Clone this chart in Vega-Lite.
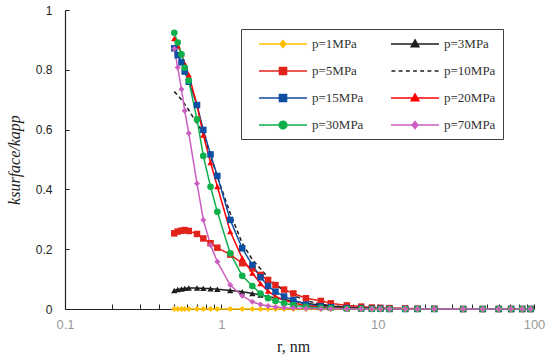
{
"$schema": "https://vega.github.io/schema/vega-lite/v6.json",
"width": 469, "height": 299,
"autosize": {"type": "none"},
"padding": {"left": 65, "top": 10, "right": 16, "bottom": 49},
"config": {"view": {"stroke": null}, "font": "Liberation Sans"},
"datasets": {"d": [
{"p":"p=1MPa","r":0.5,"v":0},{"p":"p=1MPa","r":0.526,"v":0},{"p":"p=1MPa","r":0.556,"v":0},{"p":"p=1MPa","r":0.583,"v":0},{"p":"p=1MPa","r":0.619,"v":0},{"p":"p=1MPa","r":0.699,"v":0},{"p":"p=1MPa","r":0.767,"v":0},{"p":"p=1MPa","r":0.853,"v":0},{"p":"p=1MPa","r":0.943,"v":0},{"p":"p=1MPa","r":1.14,"v":0},{"p":"p=1MPa","r":1.36,"v":0},{"p":"p=1MPa","r":1.58,"v":0},{"p":"p=1MPa","r":1.78,"v":0},{"p":"p=1MPa","r":1.99,"v":0},{"p":"p=1MPa","r":2.22,"v":0},{"p":"p=1MPa","r":2.52,"v":0},{"p":"p=1MPa","r":2.89,"v":0},{"p":"p=1MPa","r":3.48,"v":0},{"p":"p=1MPa","r":4.33,"v":0},{"p":"p=1MPa","r":5.01,"v":0},{"p":"p=1MPa","r":6.35,"v":0},{"p":"p=1MPa","r":7.84,"v":0},{"p":"p=1MPa","r":9.18,"v":0},{"p":"p=1MPa","r":10.4,"v":0},{"p":"p=1MPa","r":11.9,"v":0},{"p":"p=1MPa","r":15,"v":0},{"p":"p=1MPa","r":18,"v":0},{"p":"p=1MPa","r":23,"v":0},{"p":"p=1MPa","r":35.2,"v":0},{"p":"p=1MPa","r":47,"v":0},{"p":"p=1MPa","r":59.5,"v":0},{"p":"p=1MPa","r":71.4,"v":0},{"p":"p=1MPa","r":84,"v":0},{"p":"p=1MPa","r":95,"v":0},
{"p":"p=3MPa","r":0.5,"v":0.062},{"p":"p=3MPa","r":0.526,"v":0.065},{"p":"p=3MPa","r":0.556,"v":0.067},{"p":"p=3MPa","r":0.583,"v":0.069},{"p":"p=3MPa","r":0.619,"v":0.07},{"p":"p=3MPa","r":0.699,"v":0.07},{"p":"p=3MPa","r":0.767,"v":0.069},{"p":"p=3MPa","r":0.853,"v":0.068},{"p":"p=3MPa","r":0.943,"v":0.066},{"p":"p=3MPa","r":1.14,"v":0.062},{"p":"p=3MPa","r":1.36,"v":0.058},{"p":"p=3MPa","r":1.58,"v":0.052},{"p":"p=3MPa","r":1.78,"v":0.047},{"p":"p=3MPa","r":1.99,"v":0.042},{"p":"p=3MPa","r":2.22,"v":0.037},{"p":"p=3MPa","r":2.52,"v":0.032},{"p":"p=3MPa","r":2.89,"v":0.026},{"p":"p=3MPa","r":3.48,"v":0.019},{"p":"p=3MPa","r":4.33,"v":0.013},{"p":"p=3MPa","r":5.01,"v":0.01},{"p":"p=3MPa","r":6.35,"v":0.006},{"p":"p=3MPa","r":7.84,"v":0.004},{"p":"p=3MPa","r":9.18,"v":0.003},{"p":"p=3MPa","r":10.4,"v":0.002},{"p":"p=3MPa","r":11.9,"v":0.002},{"p":"p=3MPa","r":15,"v":0.001},{"p":"p=3MPa","r":18,"v":0.001},{"p":"p=3MPa","r":23,"v":0.001},{"p":"p=3MPa","r":35.2,"v":0},{"p":"p=3MPa","r":47,"v":0},{"p":"p=3MPa","r":59.5,"v":0},{"p":"p=3MPa","r":71.4,"v":0},{"p":"p=3MPa","r":84,"v":0},{"p":"p=3MPa","r":95,"v":0},
{"p":"p=5MPa","r":0.5,"v":0.253},{"p":"p=5MPa","r":0.526,"v":0.259},{"p":"p=5MPa","r":0.556,"v":0.262},{"p":"p=5MPa","r":0.583,"v":0.264},{"p":"p=5MPa","r":0.619,"v":0.261},{"p":"p=5MPa","r":0.699,"v":0.251},{"p":"p=5MPa","r":0.767,"v":0.236},{"p":"p=5MPa","r":0.853,"v":0.22},{"p":"p=5MPa","r":0.943,"v":0.205},{"p":"p=5MPa","r":1.14,"v":0.182},{"p":"p=5MPa","r":1.36,"v":0.153},{"p":"p=5MPa","r":1.58,"v":0.136},{"p":"p=5MPa","r":1.78,"v":0.114},{"p":"p=5MPa","r":1.99,"v":0.097},{"p":"p=5MPa","r":2.22,"v":0.08},{"p":"p=5MPa","r":2.52,"v":0.065},{"p":"p=5MPa","r":2.89,"v":0.052},{"p":"p=5MPa","r":3.48,"v":0.036},{"p":"p=5MPa","r":4.33,"v":0.027},{"p":"p=5MPa","r":5.01,"v":0.019},{"p":"p=5MPa","r":6.35,"v":0.012},{"p":"p=5MPa","r":7.84,"v":0.008},{"p":"p=5MPa","r":9.18,"v":0.005},{"p":"p=5MPa","r":10.4,"v":0.004},{"p":"p=5MPa","r":11.9,"v":0.003},{"p":"p=5MPa","r":15,"v":0.002},{"p":"p=5MPa","r":18,"v":0.001},{"p":"p=5MPa","r":23,"v":0.001},{"p":"p=5MPa","r":35.2,"v":0},{"p":"p=5MPa","r":47,"v":0},{"p":"p=5MPa","r":59.5,"v":0},{"p":"p=5MPa","r":71.4,"v":0},{"p":"p=5MPa","r":84,"v":0},{"p":"p=5MPa","r":95,"v":0},
{"p":"p=10MPa","r":0.5,"v":0.727},{"p":"p=10MPa","r":0.526,"v":0.715},{"p":"p=10MPa","r":0.556,"v":0.7},{"p":"p=10MPa","r":0.583,"v":0.685},{"p":"p=10MPa","r":0.619,"v":0.665},{"p":"p=10MPa","r":0.699,"v":0.62},{"p":"p=10MPa","r":0.767,"v":0.588},{"p":"p=10MPa","r":0.853,"v":0.512},{"p":"p=10MPa","r":0.943,"v":0.442},{"p":"p=10MPa","r":1.14,"v":0.32},{"p":"p=10MPa","r":1.36,"v":0.22},{"p":"p=10MPa","r":1.58,"v":0.165},{"p":"p=10MPa","r":1.78,"v":0.135},{"p":"p=10MPa","r":1.99,"v":0.105},{"p":"p=10MPa","r":2.22,"v":0.082},{"p":"p=10MPa","r":2.52,"v":0.062},{"p":"p=10MPa","r":2.89,"v":0.046},{"p":"p=10MPa","r":3.48,"v":0.028},{"p":"p=10MPa","r":4.33,"v":0.016},{"p":"p=10MPa","r":5.01,"v":0.011},{"p":"p=10MPa","r":6.35,"v":0.006},{"p":"p=10MPa","r":7.84,"v":0.003},{"p":"p=10MPa","r":9.18,"v":0.002},{"p":"p=10MPa","r":10.4,"v":0.001},{"p":"p=10MPa","r":11.9,"v":0.001},{"p":"p=10MPa","r":15,"v":0},{"p":"p=10MPa","r":18,"v":0},{"p":"p=10MPa","r":23,"v":0},{"p":"p=10MPa","r":35.2,"v":0},{"p":"p=10MPa","r":47,"v":0},{"p":"p=10MPa","r":59.5,"v":0},{"p":"p=10MPa","r":71.4,"v":0},{"p":"p=10MPa","r":84,"v":0},{"p":"p=10MPa","r":95,"v":0},
{"p":"p=15MPa","r":0.5,"v":0.872},{"p":"p=15MPa","r":0.526,"v":0.849},{"p":"p=15MPa","r":0.556,"v":0.825},{"p":"p=15MPa","r":0.583,"v":0.794},{"p":"p=15MPa","r":0.619,"v":0.76},{"p":"p=15MPa","r":0.699,"v":0.682},{"p":"p=15MPa","r":0.767,"v":0.599},{"p":"p=15MPa","r":0.853,"v":0.517},{"p":"p=15MPa","r":0.943,"v":0.445},{"p":"p=15MPa","r":1.14,"v":0.298},{"p":"p=15MPa","r":1.36,"v":0.203},{"p":"p=15MPa","r":1.58,"v":0.147},{"p":"p=15MPa","r":1.78,"v":0.106},{"p":"p=15MPa","r":1.99,"v":0.077},{"p":"p=15MPa","r":2.22,"v":0.058},{"p":"p=15MPa","r":2.52,"v":0.042},{"p":"p=15MPa","r":2.89,"v":0.03},{"p":"p=15MPa","r":3.48,"v":0.015},{"p":"p=15MPa","r":4.33,"v":0.009},{"p":"p=15MPa","r":5.01,"v":0.006},{"p":"p=15MPa","r":6.35,"v":0.003},{"p":"p=15MPa","r":7.84,"v":0.002},{"p":"p=15MPa","r":9.18,"v":0.001},{"p":"p=15MPa","r":10.4,"v":0.001},{"p":"p=15MPa","r":11.9,"v":0},{"p":"p=15MPa","r":15,"v":0},{"p":"p=15MPa","r":18,"v":0},{"p":"p=15MPa","r":23,"v":0},{"p":"p=15MPa","r":35.2,"v":0},{"p":"p=15MPa","r":47,"v":0},{"p":"p=15MPa","r":59.5,"v":0},{"p":"p=15MPa","r":71.4,"v":0},{"p":"p=15MPa","r":84,"v":0},{"p":"p=15MPa","r":95,"v":0},
{"p":"p=20MPa","r":0.5,"v":0.905},{"p":"p=20MPa","r":0.526,"v":0.88},{"p":"p=20MPa","r":0.556,"v":0.853},{"p":"p=20MPa","r":0.583,"v":0.82},{"p":"p=20MPa","r":0.619,"v":0.783},{"p":"p=20MPa","r":0.699,"v":0.682},{"p":"p=20MPa","r":0.767,"v":0.582},{"p":"p=20MPa","r":0.853,"v":0.49},{"p":"p=20MPa","r":0.943,"v":0.41},{"p":"p=20MPa","r":1.14,"v":0.259},{"p":"p=20MPa","r":1.36,"v":0.17},{"p":"p=20MPa","r":1.58,"v":0.12},{"p":"p=20MPa","r":1.78,"v":0.085},{"p":"p=20MPa","r":1.99,"v":0.06},{"p":"p=20MPa","r":2.22,"v":0.042},{"p":"p=20MPa","r":2.52,"v":0.03},{"p":"p=20MPa","r":2.89,"v":0.02},{"p":"p=20MPa","r":3.48,"v":0.011},{"p":"p=20MPa","r":4.33,"v":0.007},{"p":"p=20MPa","r":5.01,"v":0.005},{"p":"p=20MPa","r":6.35,"v":0.002},{"p":"p=20MPa","r":7.84,"v":0.001},{"p":"p=20MPa","r":9.18,"v":0.001},{"p":"p=20MPa","r":10.4,"v":0},{"p":"p=20MPa","r":11.9,"v":0},{"p":"p=20MPa","r":15,"v":0},{"p":"p=20MPa","r":18,"v":0},{"p":"p=20MPa","r":23,"v":0},{"p":"p=20MPa","r":35.2,"v":0},{"p":"p=20MPa","r":47,"v":0},{"p":"p=20MPa","r":59.5,"v":0},{"p":"p=20MPa","r":71.4,"v":0},{"p":"p=20MPa","r":84,"v":0},{"p":"p=20MPa","r":95,"v":0},
{"p":"p=30MPa","r":0.5,"v":0.924},{"p":"p=30MPa","r":0.526,"v":0.891},{"p":"p=30MPa","r":0.556,"v":0.852},{"p":"p=30MPa","r":0.583,"v":0.807},{"p":"p=30MPa","r":0.619,"v":0.763},{"p":"p=30MPa","r":0.699,"v":0.634},{"p":"p=30MPa","r":0.767,"v":0.512},{"p":"p=30MPa","r":0.853,"v":0.409},{"p":"p=30MPa","r":0.943,"v":0.325},{"p":"p=30MPa","r":1.14,"v":0.186},{"p":"p=30MPa","r":1.36,"v":0.111},{"p":"p=30MPa","r":1.58,"v":0.077},{"p":"p=30MPa","r":1.78,"v":0.052},{"p":"p=30MPa","r":1.99,"v":0.036},{"p":"p=30MPa","r":2.22,"v":0.027},{"p":"p=30MPa","r":2.52,"v":0.019},{"p":"p=30MPa","r":2.89,"v":0.013},{"p":"p=30MPa","r":3.48,"v":0.007},{"p":"p=30MPa","r":4.33,"v":0.004},{"p":"p=30MPa","r":5.01,"v":0.003},{"p":"p=30MPa","r":6.35,"v":0.001},{"p":"p=30MPa","r":7.84,"v":0.001},{"p":"p=30MPa","r":9.18,"v":0},{"p":"p=30MPa","r":10.4,"v":0},{"p":"p=30MPa","r":11.9,"v":0},{"p":"p=30MPa","r":15,"v":0},{"p":"p=30MPa","r":18,"v":0},{"p":"p=30MPa","r":23,"v":0},{"p":"p=30MPa","r":35.2,"v":0},{"p":"p=30MPa","r":47,"v":0},{"p":"p=30MPa","r":59.5,"v":0},{"p":"p=30MPa","r":71.4,"v":0},{"p":"p=30MPa","r":84,"v":0},{"p":"p=30MPa","r":95,"v":0},
{"p":"p=70MPa","r":0.5,"v":0.87},{"p":"p=70MPa","r":0.526,"v":0.808},{"p":"p=70MPa","r":0.556,"v":0.735},{"p":"p=70MPa","r":0.583,"v":0.663},{"p":"p=70MPa","r":0.619,"v":0.588},{"p":"p=70MPa","r":0.699,"v":0.42},{"p":"p=70MPa","r":0.767,"v":0.298},{"p":"p=70MPa","r":0.853,"v":0.214},{"p":"p=70MPa","r":0.943,"v":0.158},{"p":"p=70MPa","r":1.14,"v":0.08},{"p":"p=70MPa","r":1.36,"v":0.044},{"p":"p=70MPa","r":1.58,"v":0.024},{"p":"p=70MPa","r":1.78,"v":0.015},{"p":"p=70MPa","r":1.99,"v":0.01},{"p":"p=70MPa","r":2.22,"v":0.007},{"p":"p=70MPa","r":2.52,"v":0.004},{"p":"p=70MPa","r":2.89,"v":0.003},{"p":"p=70MPa","r":3.48,"v":0.002},{"p":"p=70MPa","r":4.33,"v":0.001},{"p":"p=70MPa","r":5.01,"v":0.001},{"p":"p=70MPa","r":6.35,"v":0},{"p":"p=70MPa","r":7.84,"v":0},{"p":"p=70MPa","r":9.18,"v":0},{"p":"p=70MPa","r":10.4,"v":0},{"p":"p=70MPa","r":11.9,"v":0},{"p":"p=70MPa","r":15,"v":0},{"p":"p=70MPa","r":18,"v":0},{"p":"p=70MPa","r":23,"v":0},{"p":"p=70MPa","r":35.2,"v":0},{"p":"p=70MPa","r":47,"v":0},{"p":"p=70MPa","r":59.5,"v":0},{"p":"p=70MPa","r":71.4,"v":0},{"p":"p=70MPa","r":84,"v":0},{"p":"p=70MPa","r":95,"v":0}
]},
"layer": [
{
"data": {"name": "d"},
"mark": {"type": "line", "strokeWidth": 1.5},
"encoding": {
"x": {"field": "r", "type": "quantitative", "scale": {"type": "log", "domain": [0.1, 100]},
 "axis": {"values": [0.1,0.2,0.3,0.4,0.5,0.6,0.7,0.8,0.9,1,2,3,4,5,6,7,8,9,10,20,30,40,50,60,70,80,90,100],
  "labelExpr": "datum.value == 0.1 ? '0.1' : datum.value == 1 ? '1' : datum.value == 10 ? '10' : datum.value == 100 ? '100' : ''",
  "grid": false, "tickSize": -5, "labelPadding": 14, "labelFlush": false, "labelOverlap": false,
  "labelFont": "Liberation Sans", "labelFontSize": 13, "labelColor": "#999999",
  "domainColor": "#222222", "tickColor": "#222222", "domainWidth": 1.2,
  "title": "r, nm", "titleFont": "Liberation Serif", "titleFontSize": 16, "titleFontWeight": "normal", "titleColor": "#222222", "titlePadding": 7, "titleX": 228}},
"y": {"field": "v", "type": "quantitative", "scale": {"domain": [0, 1]},
 "axis": {"values": [0,0.1,0.2,0.3,0.4,0.5,0.6,0.7,0.8,0.9,1],
  "labelExpr": "(round(datum.value*10) % 2 == 0) ? format(datum.value, '~g') : ''",
  "grid": false, "tickSize": -4, "labelPadding": 17, "labelFlush": false, "labelOverlap": false,
  "labelFont": "Liberation Sans", "labelFontSize": 12, "labelColor": "#222222",
  "domainColor": "#222222", "tickColor": "#222222", "domainWidth": 1.2,
  "title": "ksurface/kapp", "titleFont": "Liberation Serif", "titleFontSize": 16, "titleFontWeight": "normal", "titleFontStyle": "italic", "titleColor": "#222222", "titlePadding": 13}},
"color": {"field": "p", "type": "nominal", "legend": null,
 "scale": {"domain": ["p=1MPa","p=3MPa","p=5MPa","p=10MPa","p=15MPa","p=20MPa","p=30MPa","p=70MPa"],
  "range": ["#FFC000","#1E1E1E","#E2231A","#1E1E1E","#0E4EA3","#FF0000","#0DB04B","#CB5FC1"]}},
"strokeDash": {"field": "p", "type": "nominal", "legend": null,
 "scale": {"domain": ["p=1MPa","p=3MPa","p=5MPa","p=10MPa","p=15MPa","p=20MPa","p=30MPa","p=70MPa"],
  "range": [[1,0],[1,0],[1,0],[4,3],[1,0],[1,0],[1,0],[1,0]]}}
}
},
{
"data": {"name": "d"},
"transform": [{"filter": "datum.p == 'p=3MPa' || datum.p == 'p=20MPa'"}],
"mark": {"type": "point", "filled": true, "opacity": 1, "size": 40, "shape": "triangle-up"},
"encoding": {
"x": {"field": "r", "type": "quantitative"},
"y": {"field": "v", "type": "quantitative"},
"color": {"field": "p", "type": "nominal", "legend": null}
}
},
{
"data": {"name": "d"},
"transform": [{"filter": "datum.p == 'p=5MPa' || datum.p == 'p=15MPa'"}],
"mark": {"type": "point", "filled": true, "opacity": 1, "size": 42, "shape": "square"},
"encoding": {
"x": {"field": "r", "type": "quantitative"},
"y": {"field": "v", "type": "quantitative"},
"color": {"field": "p", "type": "nominal", "legend": null}
}
},
{
"data": {"name": "d"},
"transform": [{"filter": "datum.p == 'p=30MPa'"}],
"mark": {"type": "point", "filled": true, "opacity": 1, "size": 44, "shape": "circle"},
"encoding": {
"x": {"field": "r", "type": "quantitative"},
"y": {"field": "v", "type": "quantitative"},
"color": {"field": "p", "type": "nominal", "legend": null}
}
},
{
"data": {"name": "d"},
"transform": [{"filter": "datum.p == 'p=1MPa' || datum.p == 'p=70MPa'"}],
"mark": {"type": "point", "filled": true, "opacity": 1, "size": 36, "shape": "diamond"},
"encoding": {
"x": {"field": "r", "type": "quantitative"},
"y": {"field": "v", "type": "quantitative"},
"color": {"field": "p", "type": "nominal", "legend": null}
}
},
{
"data": {"name": "d"},
"transform": [{"filter": "datum.r < 0"}],
"mark": {"type": "point", "filled": true, "opacity": 1, "size": 196, "strokeWidth": 1.5},
"encoding": {
"x": {"field": "r", "type": "quantitative"},
"y": {"field": "v", "type": "quantitative"},
"fill": {"field": "p", "type": "nominal",
 "scale": {"domain": ["p=1MPa","p=5MPa","p=15MPa","p=30MPa","p=3MPa","p=10MPa","p=20MPa","p=70MPa"],
  "range": ["#FFC000","#E2231A","#0E4EA3","#0DB04B","#1E1E1E","#1E1E1E","#FF0000","#CB5FC1"]},
 "legend": {"orient": "none", "legendX": 176, "legendY": 19, "columns": 2, "title": null, "symbolSize": 196, "symbolStrokeWidth": 1.5, "symbolOffset": 27, "labelFont": "Liberation Serif", "labelFontSize": 13, "labelColor": "#333333", "labelOffset": 21, "padding": 7, "rowPadding": 12, "columnPadding": 16, "strokeColor": "#404040", "fillColor": "#ffffff"}},
"stroke": {"field": "p", "type": "nominal",
 "scale": {"domain": ["p=1MPa","p=5MPa","p=15MPa","p=30MPa","p=3MPa","p=10MPa","p=20MPa","p=70MPa"],
  "range": ["#FFC000","#E2231A","#0E4EA3","#0DB04B","#1E1E1E","#1E1E1E","#FF0000","#CB5FC1"]},
 "legend": {"orient": "none", "legendX": 176, "legendY": 19, "columns": 2, "title": null, "symbolSize": 196, "symbolStrokeWidth": 1.5, "symbolOffset": 27, "labelFont": "Liberation Serif", "labelFontSize": 13, "labelColor": "#333333", "labelOffset": 21, "padding": 7, "rowPadding": 12, "columnPadding": 16, "strokeColor": "#404040", "fillColor": "#ffffff"}},
"shape": {"field": "p", "type": "nominal",
 "scale": {"domain": ["p=1MPa","p=5MPa","p=15MPa","p=30MPa","p=3MPa","p=10MPa","p=20MPa","p=70MPa"],
  "range": [
   "M-3.43,0L3.43,0M0,-0.51L0.41,0L0,0.51L-0.41,0Z",
   "M-3.43,0L3.43,0M-0.51,-0.51L0.51,-0.51L0.51,0.51L-0.51,0.51Z",
   "M-3.43,0L3.43,0M-0.51,-0.51L0.51,-0.51L0.51,0.51L-0.51,0.51Z",
   "M-3.43,0L3.43,0M0.55,0A0.55,0.55,0,1,1,-0.55,0A0.55,0.55,0,1,1,0.55,0Z",
   "M-3.43,0L3.43,0M0,-0.58L0.55,0.41L-0.55,0.41Z",
   "M-3.36,0L-2.81,0M-2.33,0L-1.78,0M-1.3,0L-0.75,0M-0.27,0L0.27,0M0.75,0L1.3,0M1.78,0L2.33,0M2.81,0L3.36,0",
   "M-3.43,0L3.43,0M0,-0.58L0.55,0.41L-0.55,0.41Z",
   "M-3.43,0L3.43,0M0,-0.51L0.41,0L0,0.51L-0.41,0Z"]},
 "legend": {"orient": "none", "legendX": 176, "legendY": 19, "columns": 2, "title": null, "symbolSize": 196, "symbolStrokeWidth": 1.5, "symbolOffset": 27, "labelFont": "Liberation Serif", "labelFontSize": 13, "labelColor": "#333333", "labelOffset": 21, "padding": 7, "rowPadding": 12, "columnPadding": 16, "strokeColor": "#404040", "fillColor": "#ffffff"}}
}
}
]
}
